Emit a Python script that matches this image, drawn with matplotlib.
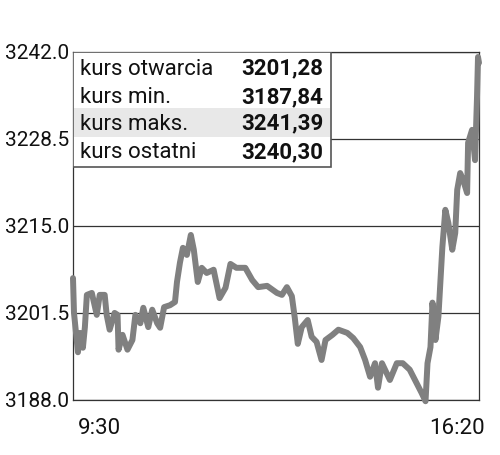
import numpy as np
from matplotlib import pyplot as plt
from matplotlib.patches import Rectangle
from matplotlib.transforms import offset_copy

plt.rcParams['font.family'] = ['Roboto', 'DejaVu Sans']

# minutes since 9:30 and index value
minutes = [0, 1, 5, 7, 10, 12, 14, 19, 24, 27, 32, 34, 37, 42, 45, 46, 50, 55, 60, 63,
           68, 71, 76, 80, 85, 88, 92, 98, 103, 105, 108, 111, 115, 119, 122, 126, 130,
           135, 142, 148, 154, 159, 165, 174, 181, 187, 196, 206, 211, 216, 221, 224,
           227, 231, 237, 241, 246, 251, 255, 262, 268, 277, 283, 290, 295, 300, 305,
           308, 312, 320, 327, 333, 340, 347, 352, 356, 358, 361, 363, 364, 366, 369,
           373, 376, 379, 383, 386, 388, 391, 394, 398, 399, 403, 406, 408, 409, 410]
price = [3206.9, 3201.5, 3195.4, 3198.4, 3196.1, 3199.3, 3204.3, 3204.6, 3201.2, 3204.3,
         3204.3, 3201.2, 3198.9, 3201.5, 3201.2, 3195.8, 3198.1, 3195.8, 3197.3, 3201.2,
         3199.9, 3202.3, 3199.3, 3202.0, 3199.9, 3199.2, 3202.4, 3202.7, 3203.2, 3206.3,
         3209.3, 3211.6, 3210.5, 3213.6, 3211.3, 3206.3, 3208.5, 3207.7, 3208.2, 3203.8,
         3205.4, 3209.1, 3208.5, 3208.5, 3206.6, 3205.5, 3205.7, 3204.6, 3204.3, 3205.5,
         3204.1, 3200.7, 3196.7, 3199.3, 3200.4, 3197.8, 3197.0, 3194.2, 3197.3, 3198.1,
         3198.9, 3198.4, 3197.6, 3196.2, 3194.2, 3191.6, 3193.7, 3189.9, 3193.7, 3191.1,
         3193.7, 3193.7, 3192.7, 3190.6, 3189.1, 3187.8, 3193.7, 3196.2, 3203.1, 3201.5,
         3197.3, 3200.9, 3211.7, 3217.5, 3215.5, 3211.3, 3213.9, 3220.6, 3223.2, 3222.1,
         3220.1, 3227.9, 3229.9, 3225.2, 3235.0, 3241.2, 3240.3]

y_ticks = [3188.0, 3201.5, 3215.0, 3228.5, 3242.0]
x_labels = ["9:30", "16:20"]

info_names = ["kurs otwarcia", "kurs min.", "kurs maks.", "kurs ostatni"]
info_values = ["3201,28", "3187,84", "3241,39", "3240,30"]

fig = plt.figure(figsize=(5, 4.55), dpi=100)
ax = fig.add_axes([0.146, 0.121, 0.812, 0.765])

ax.plot(minutes, price, color="#808080", lw=4.3, solid_joinstyle="round",
        solid_capstyle="round", clip_on=False, zorder=3)

ax.set_xlim(0, 410)
ax.set_ylim(3188, 3242)
ax.set_yticks(y_ticks)
ax.set_yticklabels(["%.1f" % v for v in y_ticks])
ax.set_xticks([0, 410])
ax.set_xticklabels(x_labels)
ax.tick_params(length=0, labelsize=16, colors="#111111")
ax.tick_params(axis="y", pad=3, labelsize=15)
ax.tick_params(axis="x", pad=13)
labs = ax.get_xticklabels()
labs[0].set_ha("left")
labs[0].set_transform(offset_copy(labs[0].get_transform(), fig=fig, x=5, units="dots"))
labs[1].set_ha("right")
labs[1].set_transform(offset_copy(labs[1].get_transform(), fig=fig, x=6, units="dots"))

ax.grid(axis="y", color="#333333", lw=0.9)
ax.set_axisbelow(True)
for s in ax.spines.values():
    s.set_color("#333333")
    s.set_linewidth(0.9)

# info box
ax.add_patch(Rectangle((0, 0.670), 0.635, 0.330, transform=ax.transAxes,
                       facecolor="white", edgecolor="#555555", lw=1.2, zorder=5))
ax.add_patch(Rectangle((0.003, 0.756), 0.630, 0.083, transform=ax.transAxes,
                       facecolor="#e8e8e8", edgecolor="none", zorder=5))
baselines = [0.934, 0.853, 0.776, 0.695]
for name, val, yb in zip(info_names, info_values, baselines):
    ax.text(0.017, yb, name, transform=ax.transAxes, fontsize=16, va="baseline",
            ha="left", color="#111111", zorder=6)
    ax.text(0.616, yb, val, transform=ax.transAxes, fontsize=16, va="baseline",
            ha="right", fontweight="bold", color="#111111", zorder=6)

plt.savefig("out.png", dpi=100)
